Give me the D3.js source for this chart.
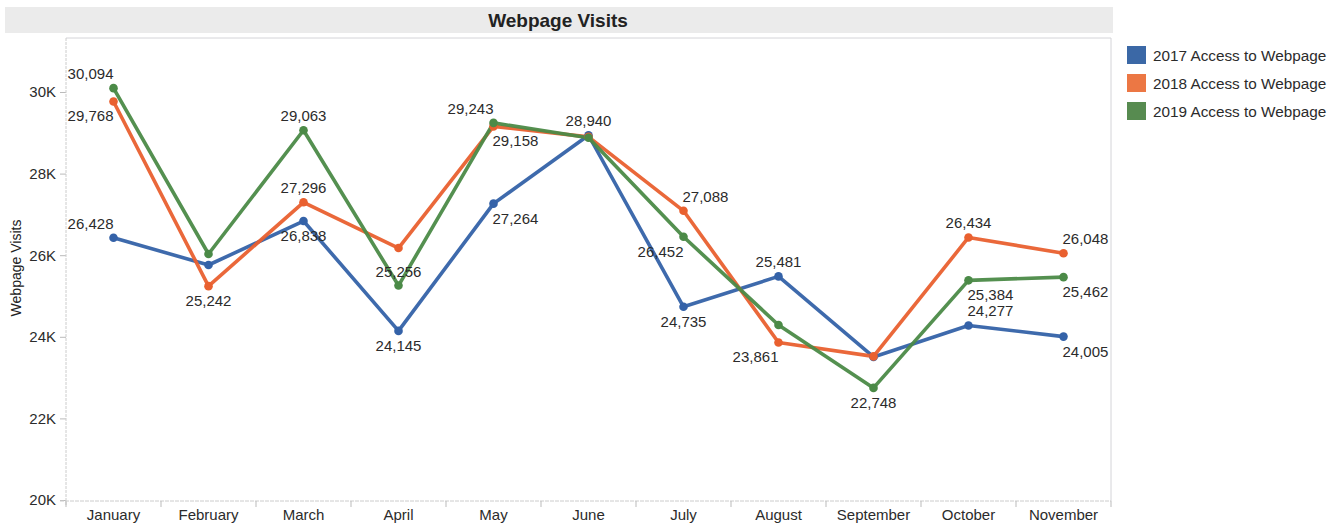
<!DOCTYPE html>
<html>
<head>
<meta charset="utf-8">
<script src="https://cdn.jsdelivr.net/npm/d3@7"></script>
<style>
  body { margin: 0; background: #fff; }
  svg { display: block; font-family: "Liberation Sans", Arial, sans-serif; }
</style>
</head>
<body>
<svg id="chart" width="1341" height="524"></svg>
<script>
const months = ["January","February","March","April","May","June","July","August","September","October","November"];
const seriesNames = ["2017 Access to Webpage","2018 Access to Webpage","2019 Access to Webpage"];
const visits2017 = [26428, 25760, 26838, 24145, 27264, 28940, 24735, 25481, 23505, 24277, 24005];
const visits2018 = [29768, 25242, 27296, 26176, 29158, 28900, 27088, 23861, 23520, 26434, 26048];
const visits2019 = [30094, 26029, 29063, 25256, 29243, 28880, 26452, 24289, 22748, 25384, 25462];
// which points carry a data label, and on which side (n, s, ne, nw, se, sw)
const labels2017 = ["nw", null, "s", "s", "se", "n", "s", "n", null, "ne", "se"];
const labels2018 = ["sw", "s", "n", null, "se", null, "ne", "sw", null, "n", "ne"];
const labels2019 = ["nw", null, "n", "n", "nw", null, "sw", null, "s", "se", "se"];
const yTicks = [20000, 22000, 24000, 26000, 28000, 30000];
const colors = ["#3462a8", "#e9602f", "#4b8a47"];
const legendColors = ["#3b68a6", "#ec7744", "#578b50"];

const series = [
  {name: seriesNames[0], values: visits2017, labels: labels2017, color: colors[0]},
  {name: seriesNames[1], values: visits2018, labels: labels2018, color: colors[1]},
  {name: seriesNames[2], values: visits2019, labels: labels2019, color: colors[2]}
];

const svg = d3.select("#chart");
const pL = 66, pR = 1111, pT = 38, pB = 501;

const x = d3.scaleBand().domain(months).range([pL, pR]).padding(0);
const y = d3.scaleLinear().domain([20000, 30000]).range([500, 92]);

// title band
svg.append("rect").attr("x", 5).attr("y", 7).attr("width", pR - 5 + 2).attr("height", 26).attr("fill", "#ebebeb");
svg.append("text").attr("x", 558).attr("y", 27).attr("text-anchor", "middle")
  .attr("font-size", 19).attr("font-weight", "bold").attr("fill", "#222").text("Webpage Visits");

// plot frame
svg.append("line").attr("x1", pL).attr("x2", pR).attr("y1", pT).attr("y2", pT).attr("stroke", "#d4d4d8");
svg.append("line").attr("x1", pR).attr("x2", pR).attr("y1", pT).attr("y2", pB).attr("stroke", "#d4d4d8");

// y axis
const yAxis = d3.axisLeft(y).tickValues(yTicks).tickFormat(d => (d / 1000) + "K").tickSize(6).tickPadding(4);
const gy = svg.append("g").attr("transform", `translate(${pL},0)`).call(yAxis);
gy.select(".domain").remove();
gy.selectAll(".tick line").attr("stroke", "#bbb");
gy.selectAll(".tick text").attr("font-size", 15).attr("fill", "#2b2b2b").attr("font-family", "Liberation Sans, Arial, sans-serif");
svg.append("line").attr("x1", pL).attr("x2", pL).attr("y1", pT).attr("y2", pB + 4).attr("stroke", "#ccc").attr("stroke-dasharray", "3,1");

// x axis
const xAxis = d3.axisBottom(x).tickSize(0).tickPadding(8);
const gx = svg.append("g").attr("transform", `translate(0,${pB})`).call(xAxis);
gx.select(".domain").remove();
gx.selectAll(".tick text").attr("font-size", 15).attr("fill", "#2b2b2b").attr("font-family", "Liberation Sans, Arial, sans-serif");
svg.append("line").attr("x1", pL - 6).attr("x2", pR).attr("y1", pB).attr("y2", pB).attr("stroke", "#ccc").attr("stroke-dasharray", "4,1");
svg.append("g").selectAll("line").data(months.concat(["_end"])).join("line")
  .attr("x1", (d, i) => pL + i * x.step()).attr("x2", (d, i) => pL + i * x.step())
  .attr("y1", pB).attr("y2", pB + 6).attr("stroke", "#bbb");

// y axis title
svg.append("text").attr("transform", "translate(21,268) rotate(-90)").attr("text-anchor", "middle")
  .attr("font-size", 14).attr("fill", "#222").text("Webpage Visits");

const cx = i => x(months[i]) + x.bandwidth() / 2;

// lines
const line = d3.line().x((d, i) => cx(i)).y(d => y(d));
series.forEach(s => {
  svg.append("path").datum(s.values).attr("d", line).attr("fill", "none")
    .attr("stroke", s.color).attr("stroke-width", 3.6).attr("stroke-linejoin", "round").attr("opacity", 0.95);
});
series.forEach(s => {
  svg.append("g").selectAll("circle").data(s.values).join("circle")
    .attr("cx", (d, i) => cx(i)).attr("cy", d => y(d)).attr("r", 4.3).attr("fill", s.color);
});

// data labels
const fmt = d3.format(",");
const placement = {
  n:  {dx: 0, dy: -9, anchor: "middle"},
  s:  {dx: 0, dy: 20, anchor: "middle"},
  nw: {dx: 0, dy: -9, anchor: "end"},
  sw: {dx: 0, dy: 20, anchor: "end"},
  ne: {dx: -1, dy: -9, anchor: "start"},
  se: {dx: -1, dy: 20, anchor: "start"}
};
series.forEach(s => {
  s.values.forEach((v, i) => {
    const p = s.labels[i];
    if (!p) return;
    const o = placement[p];
    svg.append("text").attr("x", cx(i) + o.dx).attr("y", y(v) + o.dy)
      .attr("text-anchor", o.anchor).attr("font-size", 15).attr("fill", "#2b2b2b").text(fmt(v));
  });
});

// legend
const lg = svg.append("g").attr("transform", "translate(1127,46)");
seriesNames.forEach((n, i) => {
  lg.append("rect").attr("x", 0).attr("y", i * 28).attr("width", 19).attr("height", 18).attr("fill", legendColors[i]);
  lg.append("text").attr("x", 26).attr("y", i * 28 + 15).attr("font-size", 15.3).attr("fill", "#2b2b2b").text(n);
});
</script>
</body>
</html>
